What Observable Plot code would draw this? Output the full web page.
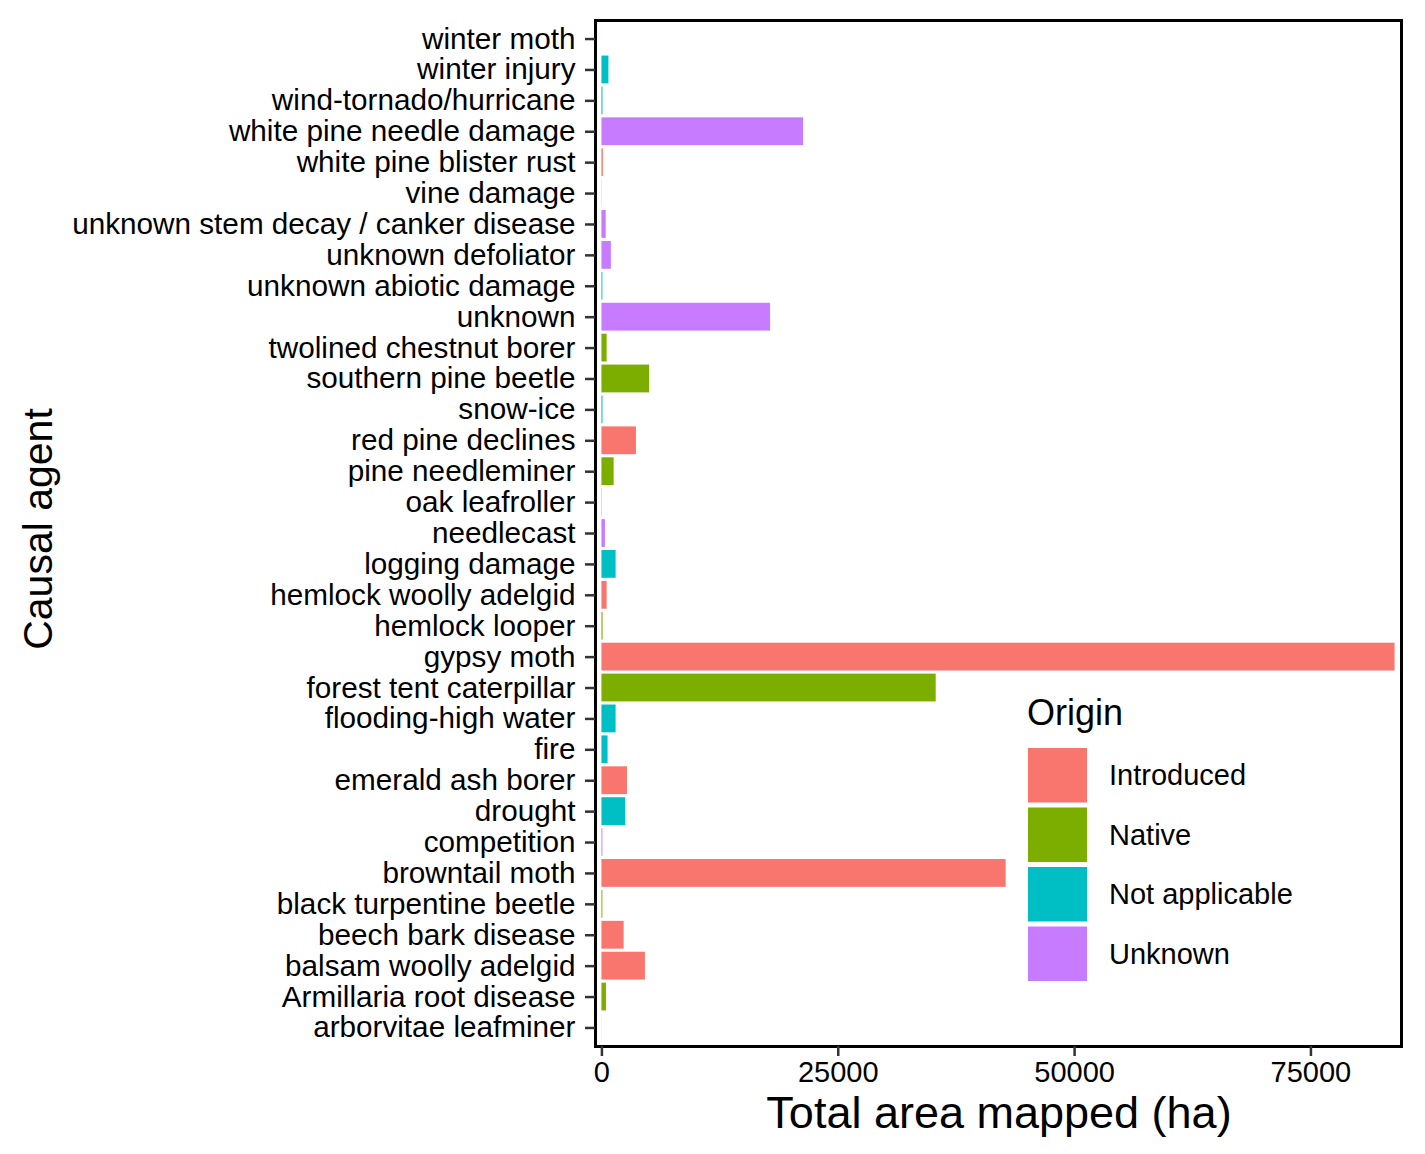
<!DOCTYPE html>
<html><head><meta charset="utf-8">
<script src="https://cdn.jsdelivr.net/npm/d3@7"></script>
<script src="https://cdn.jsdelivr.net/npm/@observablehq/plot@0.6"></script>
<style>body{margin:0;background:#fff}</style>
</head><body><div id="chart"></div>
<script>
const agents = ["winter moth","winter injury","wind-tornado/hurricane","white pine needle damage","white pine blister rust","vine damage","unknown stem decay / canker disease","unknown defoliator","unknown abiotic damage","unknown","twolined chestnut borer","southern pine beetle","snow-ice","red pine declines","pine needleminer","oak leafroller","needlecast","logging damage","hemlock woolly adelgid","hemlock looper","gypsy moth","forest tent caterpillar","flooding-high water","fire","emerald ash borer","drought","competition","browntail moth","black turpentine beetle","beech bark disease","balsam woolly adelgid","Armillaria root disease","arborvitae leafminer"];
const areas = [3,740,110,21330,150,25,450,1000,100,17840,550,5050,110,3650,1290,30,370,1500,550,120,83900,35360,1500,650,2700,2520,100,42760,100,2350,4600,480,10];
const origins = ["Introduced","Not applicable","Not applicable","Unknown","Introduced","Unknown","Unknown","Unknown","Not applicable","Unknown","Native","Native","Not applicable","Introduced","Native","Native","Unknown","Not applicable","Introduced","Native","Introduced","Native","Not applicable","Not applicable","Introduced","Not applicable","Unknown","Introduced","Native","Introduced","Introduced","Native","Native"];
const originLevels = ["Introduced","Native","Not applicable","Unknown"];
const originColors = ["#F8766D","#7CAE00","#00BFC4","#C77CFF"];
const xTicks = [0,25000,50000,75000];

const data = agents.map((a,i)=>({agent:a, area:areas[i], origin:origins[i]}));
const font = "'Liberation Sans', Arial, sans-serif";

const chart = Plot.plot({
  width:1425, height:1154,
  marginLeft:595, marginRight:24, marginTop:20, marginBottom:108,
  style:{fontFamily:font, background:"white", color:"black"},
  x:{domain:[-680,84580]},
  y:{domain:agents, paddingInner:0.1, paddingOuter:0.15, round:false},
  color:{domain:originLevels, range:originColors},
  marks:[
    Plot.barX(data,{x:"area", y:"agent", fill:"origin"}),
    Plot.frame({stroke:"black", strokeWidth:3}),
    Plot.axisY({tickSize:10, tickPadding:10, fontSize:29.7, label:null, stroke:"#333", strokeWidth:2.5}),
    Plot.axisX({ticks:xTicks, tickFormat:d=>String(d), tickSize:10, tickPadding:5, fontSize:29, label:null, stroke:"#333", strokeWidth:2.5})
  ]
});
document.getElementById("chart").appendChild(chart);

const svg = d3.select(chart);
svg.append("text").attr("x",999).attr("y",1128).attr("text-anchor","middle")
  .attr("font-family",font).attr("font-size",45).attr("fill","black").text("Total area mapped (ha)");
svg.append("text").attr("transform","translate(52,529) rotate(-90)").attr("text-anchor","middle")
  .attr("font-family",font).attr("font-size",41).attr("fill","black").text("Causal agent");
const lg = svg.append("g").attr("font-family",font).attr("text-anchor","start");
lg.append("text").attr("x",1027).attr("y",725).attr("font-size",36).attr("fill","black").attr("text-anchor","start").text("Origin");
originLevels.forEach((o,i)=>{
  lg.append("rect").attr("x",1028).attr("y",748+i*59.5).attr("width",59).attr("height",54.5).attr("fill",originColors[i]);
  lg.append("text").attr("x",1109).attr("y",785+i*59.5).attr("font-size",29).attr("fill","black").attr("text-anchor","start").text(o);
});
</script>
</body></html>
